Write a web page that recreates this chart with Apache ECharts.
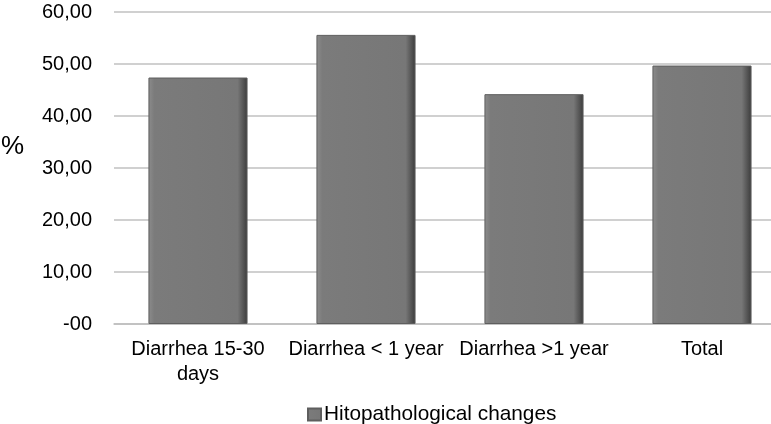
<!DOCTYPE html>
<html>
<head>
<meta charset="utf-8">
<script src="https://cdn.jsdelivr.net/npm/echarts@6/dist/echarts.min.js"></script>
<style>
  html, body { margin: 0; padding: 0; background: #fff; }
  #bar_chart { width: 771px; height: 424px; }
</style>
</head>
<body>
<div id="bar_chart"></div>
<script>
// categories and values
var categories = ['Diarrhea 15-30\ndays', 'Diarrhea < 1 year', 'Diarrhea >1 year', 'Total'];
var seriesName = 'Hitopathological changes';
var values = [47.4, 55.6, 44.2, 49.7];
var yTickLabels = ['-00', '10,00', '20,00', '30,00', '40,00', '50,00', '60,00'];

var chart = echarts.init(document.getElementById('bar_chart'));

// bevelled grey bar look
var barColor = new echarts.graphic.LinearGradient(0, 0, 1, 0, [
  { offset: 0, color: '#8c8c8c' },
  { offset: 0.06, color: '#7b7b7b' },
  { offset: 0.9, color: '#777777' },
  { offset: 0.97, color: '#4d4d4d' },
  { offset: 1, color: '#3a3a3a' }
]);

var option = {
  animation: false,
  textStyle: { fontFamily: 'Liberation Sans, Arial, sans-serif' },
  grid: {
    left: 114,
    width: 672,   // plot runs past the right edge of the picture
    top: 12,
    bottom: 100,
    containLabel: false,
    outerBoundsMode: 'none'
  },
  legend: {
    data: [seriesName],
    top: 399,
    left: 302,
    icon: 'rect',
    itemWidth: 13,
    itemHeight: 12,
    itemGap: 3,
    textStyle: { fontSize: 20.8, color: '#000', padding: [0, 0, 0, -2] }
  },
  graphic: [{
    type: 'text',
    left: 1,
    top: 134,
    style: { text: '%', fontSize: 26, fill: '#000', fontFamily: 'Liberation Sans, Arial, sans-serif' }
  }],
  xAxis: {
    type: 'category',
    data: categories,
    axisLine: { show: true, lineStyle: { color: '#bdbdbd', width: 1.5 } },
    axisTick: { show: false },
    axisLabel: {
      interval: 0,
      fontSize: 20,
      lineHeight: 25,
      margin: 13,
      color: '#000'
    }
  },
  yAxis: {
    type: 'value',
    min: 0,
    max: 60,
    interval: 10,
    axisLine: { show: false },
    axisTick: { show: false },
    splitLine: { show: true, lineStyle: { color: '#c0c0c0', width: 1.5 } },
    axisLabel: {
      fontSize: 20,
      color: '#000',
      margin: 22,
      formatter: function (v) { return yTickLabels[Math.round(v / 10)]; }
    }
  },
  series: [{
    name: seriesName,
    type: 'bar',
    barCategoryGap: '41%',
    itemStyle: {
      color: barColor,
      borderColor: '#5e5e5e',
      borderWidth: 1
    },
    data: values
  }]
};
chart.setOption(option);
</script>
</body>
</html>
